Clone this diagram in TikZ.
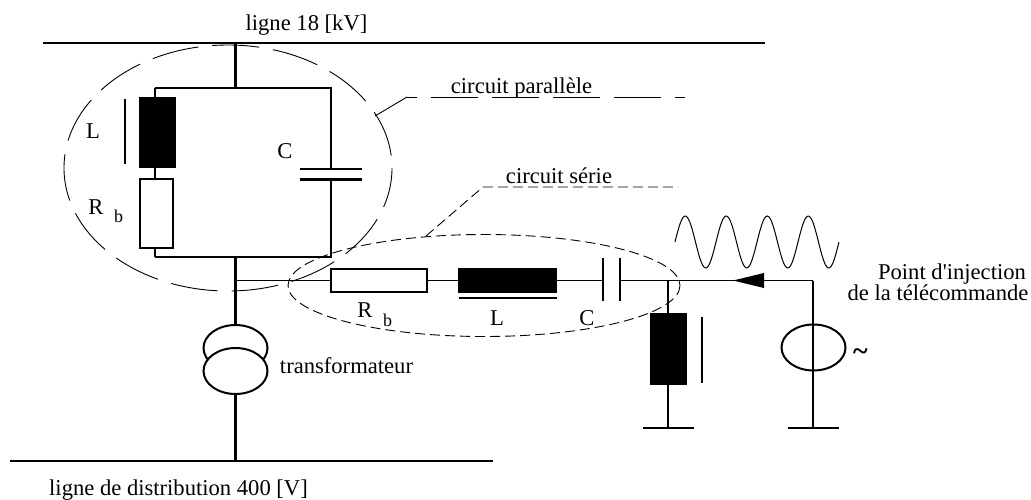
\documentclass[tikz,border=0pt]{standalone}
\usepackage{fontspec}
\newfontfamily\lblfont{Liberation Serif}
\usetikzlibrary{calc}
\usetikzlibrary{arrows}
\usetikzlibrary{shapes.geometric}
\tikzset{
 wire/.style={black, line width=2.2},
 thinwire/.style={black, line width=1.6},
 comp/.style={draw=black, line width=2, rectangle, inner sep=0, outer sep=0},
 coil/.style={comp, fill=black},
 trafo/.style={draw=black, line width=2, ellipse, inner sep=0, outer sep=0, minimum width=64, minimum height=46},
 longdash/.style={black, line width=.9, dash pattern=on 47 off 14},
 shortdash/.style={black, line width=.9, dash pattern=on 10 off 5},
 lbl/.style={inner sep=0, anchor=base, font=\lblfont\fontsize{22.6}{26}\selectfont},
 sub/.style={inner sep=0, anchor=base, font=\lblfont\fontsize{18}{20}\selectfont},
}
\begin{document}
\begin{tikzpicture}[x=1pt,y=-1pt]
\useasboundingbox (0,0) rectangle (1031,499);
\coordinate (H1) at (43,43);
\coordinate (H2) at (765,43);
\coordinate (B1) at (10,461);
\coordinate (B2) at (493,461);
\coordinate (Htap) at (235.5,43);
\coordinate (Btap) at (235.5,461);
\coordinate (PT) at (235.5,88);
\coordinate (PB) at (235.5,257);
\coordinate (PTL) at (155,88);
\coordinate (PBL) at (155,257);
\coordinate (PTR) at (331,88);
\coordinate (PBR) at (331,257);
\coordinate (J0) at (235.5,280.5);
\coordinate (J1) at (668,280.5);
\coordinate (J2) at (813,280.5);
\coordinate (G1) at (668,428);
\coordinate (G2) at (813,428);
% lignes
\draw[wire] (H1)--(H2);
\draw[wire] (B1)--(B2);
% circuit parallele
\node[coil, minimum width=35, minimum height=69] (Lp) at (157.5,132.5) {};
\node[comp, minimum width=33, minimum height=69] (Rp) at (156.5,213.5) {};
\node[inner sep=0, minimum size=0] (Cp1) at (331,169) {};
\node[inner sep=0, minimum size=0] (Cp2) at (331,179.5) {};
\draw[wire] (Htap)--(PT);
\draw[wire] (PTL)--(PTR)--(Cp1);
\draw[wire] (Cp2)--(PBR)--(PBL);
\draw[wire] (PTL)--(PTL|-Lp.north);
\draw[wire] (PTL|-Lp.south)--(PTL|-Rp.north);
\draw[wire] (PTL|-Rp.south)--(PBL);
\draw[wire] (300,169)--++(62,0);
\draw[wire] (300,179.5)--++(62,0);
\draw[wire] (125,99)--++(0,65);
% transformateur
\node[trafo] (T1) at (235.5,348) {};
\node[trafo, fill=white] (T2) at (235.5,371) {};
\draw[wire] (PB)--(T1.north);
\draw[wire] (T2.south)--(Btap);
% circuit serie
\node[comp, minimum width=96, minimum height=23] (Rs) at (379,280.5) {};
\node[coil, minimum width=97, minimum height=23] (Ls) at (507.5,280.5) {};
\coordinate (Cs1) at (603,280.5);
\coordinate (Cs2) at (620,280.5);
\draw[thinwire] (J0)--(Rs.west);
\draw[thinwire] (Rs.east)--(Ls.west);
\draw[thinwire] (Ls.east)--(Cs1);
\draw[thinwire] (Cs2)--(J1);
\draw[wire] (459,298)--++(98,0);
\draw[wire] (Cs1)++(0,-23)--++(0,43);
\draw[wire] (Cs2)++(0,-23)--++(0,43);
% branche inductive
\node[coil, minimum width=35, minimum height=70] (Lg) at (668.5,349) {};
\draw[wire] (J1)--(G1|-Lg.north);
\draw[wire] (G1|-Lg.south)--(G1);
\draw[wire] (702,317)--++(0,66);
\draw[thinwire] (643,428)--++(51,0);
% source
\node[trafo] (S) at (813.5,347.5) {};
\draw[thinwire] (J1)--(J2);
\draw[wire] (J2)--(G2);
\draw[thinwire] (788,428)--++(51,0);
\coordinate (Atip) at (733,280.5);
\fill[black] (Atip)--(764,273)--(764,288)--cycle;
\draw[black, line width=1] plot[domain=0:4, samples=120, smooth] ({675+41*\x},{242-26*sin(360*\x)});
% enveloppes
\draw[longdash, dash phase=7] (228,168) ellipse [x radius=164, y radius=123];
\draw[shortdash] (484,285.5) ellipse [x radius=196, y radius=51];
\coordinate (Pa) at (375,116);
\coordinate (Pb) at (407,97);
\coordinate (Pc) at (685,97);
\coordinate (Sa) at (426,236);
\coordinate (Sb) at (483,187);
\coordinate (Sc) at (678,187);
\draw[black, line width=.9] (Pa)--(Pb);
\draw[longdash, dash phase=37] (Pb)--(Pc);
\draw[shortdash] (Sa)--(Sb)--(Sc);
% textes
\node[lbl] (t18) at (306.5,30) {ligne 18 [kV]};
\node[lbl] (tdist) at (178.5,495) {ligne de distribution 400 [V]};
\node[lbl] (ttrafo) at (346.5,373) {transformateur};
\node[lbl] (tpar) at (521.5,93) {circuit parallèle};
\node[lbl] (tser) at (559,183) {circuit série};
\node[lbl] (tLp) at (93,138) {L};
\node[lbl] (tCp) at (285,158) {C};
\node[lbl] (tRp) at (96,214) {R};
\node[sub] (tbp) at (118.5,222) {b};
\node[lbl] (tRs) at (365,317) {R};
\node[sub] (tbs) at (387.5,326) {b};
\node[lbl] (tLs) at (497,325) {L};
\node[lbl] (tCs) at (587,325) {C};
\node[lbl] (tinj) at (952,279) {Point d'injection};
\node[lbl] (ttel) at (938,300.5) {de la télécommande};
\node[lbl, font=\lblfont\bfseries\fontsize{28}{30}\selectfont] (ttilde) at (860.5,360) {\char`\~};
\end{tikzpicture}
\end{document}
